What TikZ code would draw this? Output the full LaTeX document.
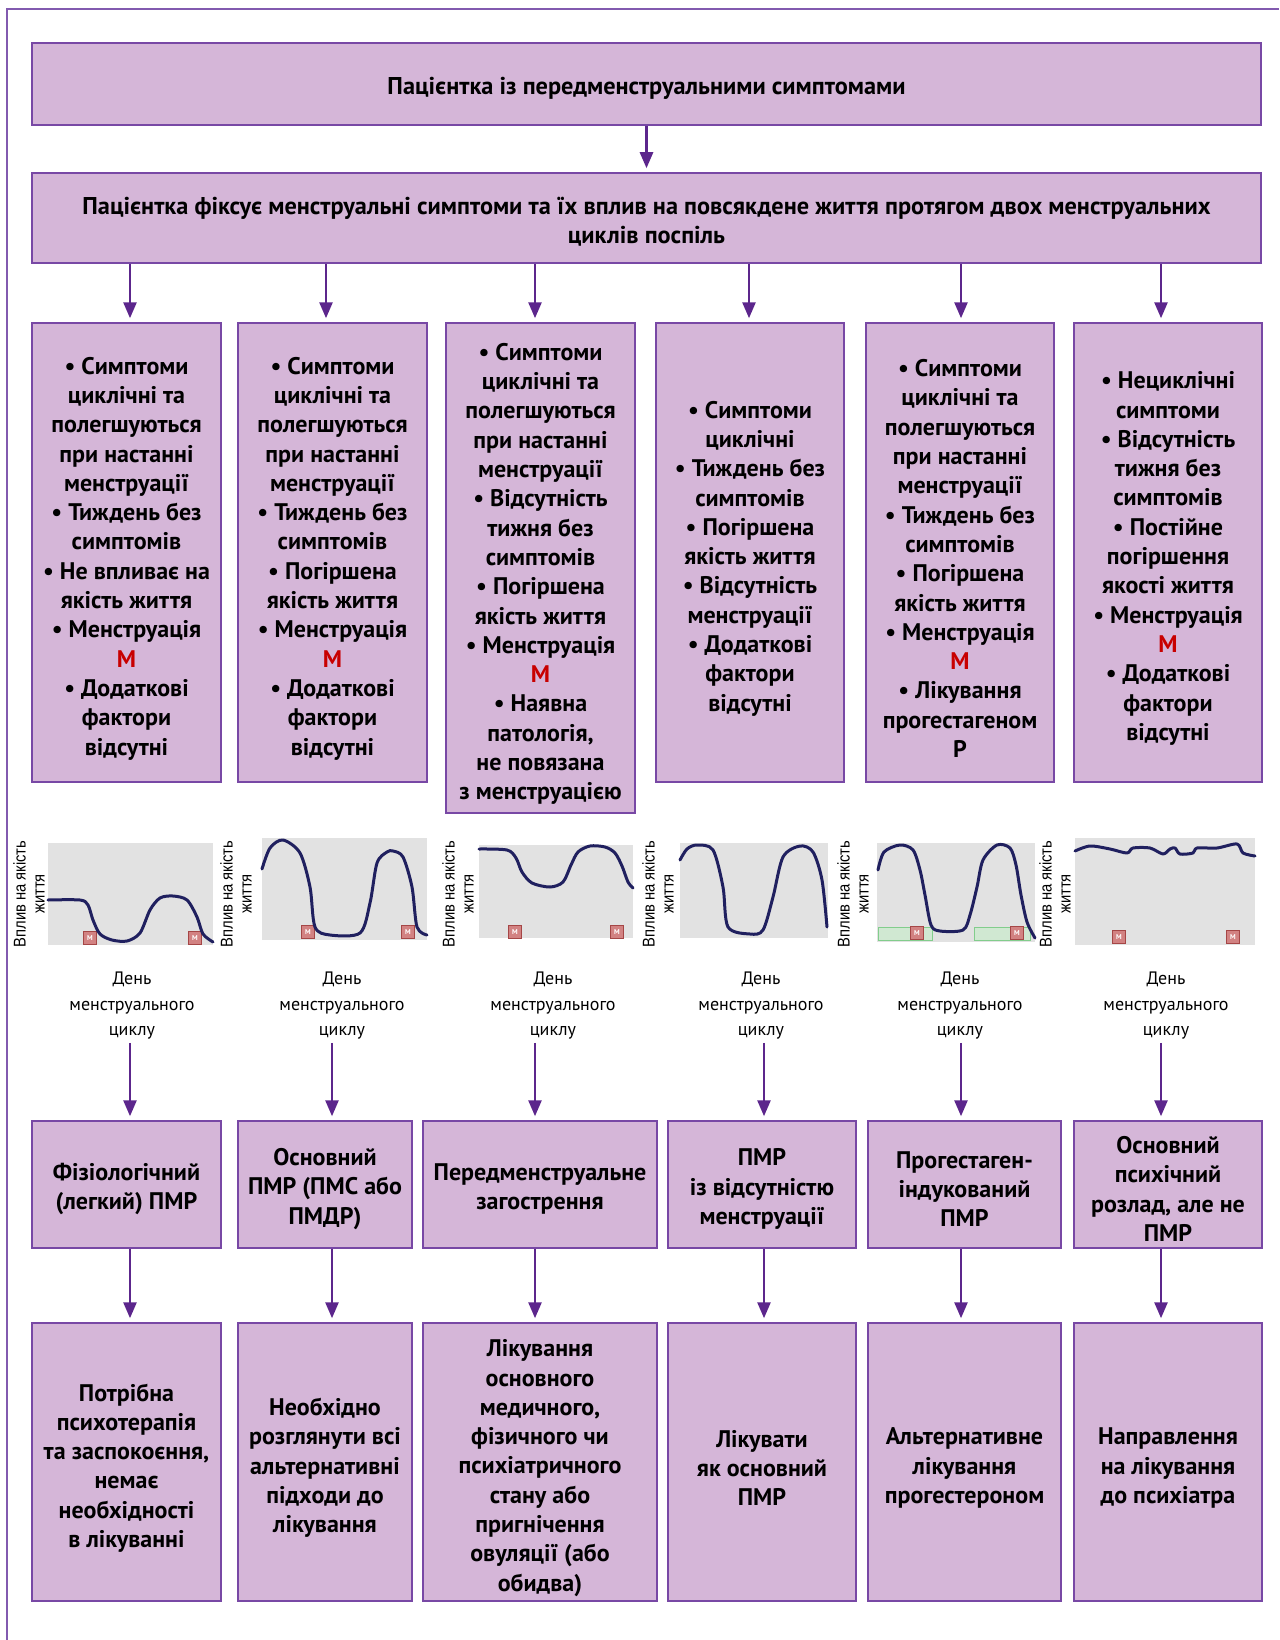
\documentclass[tikz,border=0pt]{standalone}
\usepackage{fontspec}
\setmainfont{PT Sans}
\newfontfamily\arialf[FakeStretch=0.87]{Liberation Sans}
\usetikzlibrary{arrows.meta}
\definecolor{boxfill}{RGB}{213,182,216}
\definecolor{boxline}{RGB}{120,72,165}
\definecolor{arrcol}{RGB}{92,38,140}
\definecolor{framecol}{RGB}{130,90,175}
\definecolor{mred}{RGB}{200,0,0}
\definecolor{chartbg}{RGB}{226,226,226}
\definecolor{curvecol}{RGB}{32,32,95}
\definecolor{mkfill}{RGB}{210,130,130}
\definecolor{mkline}{RGB}{165,70,70}
\definecolor{pgline}{RGB}{130,205,140}
\definecolor{pgfillc}{RGB}{208,232,210}
\newcommand{\Mr}{\textcolor{mred}{М}}
\begin{document}
\begin{tikzpicture}[x=1pt,y=-1pt,
  box/.style={draw=boxline, line width=1.5pt, fill=boxfill, inner sep=0pt},
  btext/.style={align=center, inner sep=0pt, font=\bfseries\fontsize{24}{29.3}\selectfont},
  htext/.style={align=center, inner sep=0pt, font=\bfseries\fontsize{24.3}{29.3}\selectfont},
  arr/.style={draw=arrcol, line width=2.6pt, -{Triangle[width=13pt,length=16pt]}, shorten >=4pt},
  vlab/.style={rotate=90, align=center, inner sep=0pt, font=\arialf\fontsize{17}{19}\selectfont},
  daylab/.style={align=center, inner sep=3pt, font=\fontsize{18}{25.5}\selectfont},
  curve/.style={draw=curvecol, line width=3pt, line cap=round, line join=round},
  marker/.style={draw=mkline, line width=1pt, fill=mkfill, minimum size=13pt, inner sep=0pt,
    text=white, font=\bfseries\fontsize{7}{7}\selectfont},
  pgbar/.style={draw=pgline, line width=1pt, fill=pgfillc, inner sep=0pt, minimum height=13pt}
]
\useasboundingbox (0,0) rectangle (1279,1640);
\fill[white] (0,0) rectangle (1279,1640);
% frame
\draw[framecol, line width=1.5pt] (7,1640) -- (7,9) -- (1279,9);

% header boxes
\node[box, minimum width=1229pt, minimum height=82pt] (top) at (646.5,84) {};
\node[htext] (topt) at ([yshift=-4pt]top.center) {Пацієнтка із передменструальними симптомами};
\node[box, minimum width=1229pt, minimum height=90pt] (box2) at (646.5,218) {};
\node[htext] (box2t) at ([yshift=-4pt]box2.center)
  {Пацієнтка фіксує менструальні симптоми та їх вплив на повсякдене життя протягом двох менструальних\\циклів поспіль};

% column boxes
\node[box, minimum width=189pt, minimum height=459pt] (c1) at (126.5,552.5) {};
\node[btext] (c1t) at ([yshift=-6pt]c1.center)
  {• Симптоми\\циклічні та\\полегшуються\\при настанні\\менструації\\• Тиждень без\\симптомів\\• Не впливає на\\якість життя\\• Менструація\\\Mr\\• Додаткові\\фактори\\відсутні};
\node[box, minimum width=189pt, minimum height=459pt] (c2) at (332.5,552.5) {};
\node[btext] (c2t) at ([yshift=-6pt]c2.center)
  {• Симптоми\\циклічні та\\полегшуються\\при настанні\\менструації\\• Тиждень без\\симптомів\\• Погіршена\\якість життя\\• Менструація\\\Mr\\• Додаткові\\фактори\\відсутні};
\node[box, minimum width=189pt, minimum height=490pt] (c3) at (540.5,568) {};
\node[btext] (c3t) at ([yshift=-6pt]c3.center)
  {• Симптоми\\циклічні та\\полегшуються\\при настанні\\менструації\\• Відсутність\\тижня без\\симптомів\\• Погіршена\\якість життя\\• Менструація\\\Mr\\• Наявна\\патологія,\\не повязана\\з менструацією};
\node[box, minimum width=188pt, minimum height=459pt] (c4) at (750,552.5) {};
\node[btext] (c4t) at ([yshift=-6pt]c4.center)
  {• Симптоми\\циклічні\\• Тиждень без\\симптомів\\• Погіршена\\якість життя\\• Відсутність\\менструації\\• Додаткові\\фактори\\відсутні};
\node[box, minimum width=188pt, minimum height=459pt] (c5) at (960,552.5) {};
\node[btext] (c5t) at ([yshift=-6pt]c5.center)
  {• Симптоми\\циклічні та\\полегшуються\\при настанні\\менструації\\• Тиждень без\\симптомів\\• Погіршена\\якість життя\\• Менструація\\\Mr\\• Лікування\\прогестагеном\\Р};
\node[box, minimum width=188pt, minimum height=459pt] (c6) at (1168,552.5) {};
\node[btext] (c6t) at ([yshift=-6pt]c6.center)
  {• Нециклічні\\симптоми\\• Відсутність\\тижня без\\симптомів\\• Постійне\\погіршення\\якості життя\\• Менструація\\\Mr\\• Додаткові\\фактори\\відсутні};

% arrow x positions
\coordinate (ua1) at (130,0);  \coordinate (ua2) at (326,0);  \coordinate (ua3) at (535,0);
\coordinate (ua4) at (749,0);  \coordinate (ua5) at (961,0);  \coordinate (ua6) at (1161,0);
\coordinate (la1) at (130,0);  \coordinate (la2) at (332,0);  \coordinate (la3) at (535,0);
\coordinate (la4) at (764,0);  \coordinate (la5) at (961,0);  \coordinate (la6) at (1161,0);

\draw[arr] (top.south) -- (box2.north);
\foreach \i in {1,...,6} {\draw[arr] (box2.south -| ua\i) -- (c\i.north -| ua\i);}

% charts
\fill[chartbg] (48,843) rectangle (213,945);
\fill[chartbg] (262,838) rectangle (427,940);
\fill[chartbg] (479,845) rectangle (633,938);
\fill[chartbg] (680,843) rectangle (828,938);
\fill[chartbg] (877,843) rectangle (1035,942);
\fill[chartbg] (1075,838) rectangle (1255,945);

% progestagen bars
\node[pgbar, minimum width=54pt] (pg1) at (905,933.5) {};
\node[pgbar, minimum width=56pt] (pg2) at (1002,933.5) {};

% markers
\node[marker] (m1a) at (90,938) {М};
\node[marker] (m1b) at (195,938) {М};
\node[marker] (m2a) at (308,932) {М};
\node[marker] (m2b) at (408,932) {М};
\node[marker] (m3a) at (515,932) {М};
\node[marker] (m3b) at (617,932) {М};
\node[marker] (m5a) at (917,933) {М};
\node[marker] (m5b) at (1017,933) {М};
\node[marker] (m6a) at (1119,937) {М};
\node[marker] (m6b) at (1233,937) {М};

% curves
\draw[curve] plot[smooth, tension=0.5] coordinates {(48,900) (80,900) (88,905) (93,920) (100,934) (112,940) (127,941) (140,933) (150,910) (160,898) (173,896) (187,900) (197,917) (203,934) (213,942)};
\draw[curve] plot[smooth, tension=0.5] coordinates {(262,869) (270,848) (283,840) (300,853) (310,887) (315,927) (330,935) (360,933) (370,903) (377,863) (387,852) (393,851) (403,857) (412,887) (417,927) (427,935)};
\draw[curve] plot[smooth, tension=0.5] coordinates {(479,849) (507,850) (516,858) (522,872) (532,883) (550,887) (563,882) (571,865) (578,852) (590,846) (605,847) (615,853) (622,866) (628,882) (633,888)};
\draw[curve] plot[smooth, tension=0.5] coordinates {(680,860) (687,849) (697,845) (713,850) (723,887) (728,927) (750,934) (763,930) (773,897) (783,857) (800,846) (813,852) (822,880) (827,927)};
\draw[curve] plot[smooth, tension=0.5] coordinates {(878,870) (884,852) (900,845) (913,850) (920,870) (925,895) (931,925) (940,931) (963,930) (970,915) (977,887) (983,860) (997,845) (1010,848) (1016,865) (1021,895) (1027,922) (1035,938)};
\draw[curve] plot[smooth, tension=0.5] coordinates {(1075,851) (1090,846) (1110,849) (1127,853) (1133,848) (1150,848) (1163,854) (1170,849) (1175,848) (1180,854) (1193,853) (1197,848) (1217,848) (1237,844) (1243,853) (1255,856)};

% vertical labels
\node[vlab] (v1) at (29,894) {Вплив на якість\\життя};
\node[vlab] (v2) at (236,894) {Вплив на якість\\життя};
\node[vlab] (v3) at (458,894) {Вплив на якість\\життя};
\node[vlab] (v4) at (658,894) {Вплив на якість\\життя};
\node[vlab] (v5) at (853,894) {Вплив на якість\\життя};
\node[vlab] (v6) at (1055,894) {Вплив на якість\\життя};

% day labels
\node[daylab] (d1) at (132,1006) {День\\менструального\\циклу};
\node[daylab] (d2) at (342,1006) {День\\менструального\\циклу};
\node[daylab] (d3) at (553,1006) {День\\менструального\\циклу};
\node[daylab] (d4) at (761,1006) {День\\менструального\\циклу};
\node[daylab] (d5) at (960,1006) {День\\менструального\\циклу};
\node[daylab] (d6) at (1166,1006) {День\\менструального\\циклу};

% diagnosis boxes
\node[box, minimum width=189pt, minimum height=127pt] (g1) at (126.5,1184.5) {};
\node[btext] (g1t) at ([yshift=-4.5pt]g1.center) {Фізіологічний\\(легкий) ПМР};
\node[box, minimum width=174pt, minimum height=127pt] (g2) at (325,1184.5) {};
\node[btext] (g2t) at ([yshift=-4.5pt]g2.center) {Основний\\ПМР (ПМС або\\ПМДР)};
\node[box, minimum width=234pt, minimum height=127pt] (g3) at (540,1184.5) {};
\node[btext] (g3t) at ([yshift=-4.5pt]g3.center) {Передменструальне\\загострення};
\node[box, minimum width=188pt, minimum height=127pt] (g4) at (762,1184.5) {};
\node[btext] (g4t) at ([yshift=-4.5pt]g4.center) {ПМР\\із відсутністю\\менструації};
\node[box, minimum width=193pt, minimum height=127pt] (g5) at (964.5,1184.5) {};
\node[btext] (g5t) at ([yshift=-4.5pt]g5.center) {Прогестаген-\\індукований\\ПМР};
\node[box, minimum width=188pt, minimum height=127pt] (g6) at (1168,1184.5) {};
\node[btext] (g6t) at ([yshift=-4.5pt]g6.center) {Основний\\психічний\\розлад, але не\\ПМР};

% bottom boxes
\node[box, minimum width=189pt, minimum height=278pt] (b1) at (126.5,1462) {};
\node[btext] (b1t) at ([yshift=-6pt]b1.center) {Потрібна\\психотерапія\\та заспокоєння,\\немає\\необхідності\\в лікуванні};
\node[box, minimum width=174pt, minimum height=278pt] (b2) at (325,1462) {};
\node[btext] (b2t) at ([yshift=-6pt]b2.center) {Необхідно\\розглянути всі\\альтернативні\\підходи до\\лікування};
\node[box, minimum width=234pt, minimum height=278pt] (b3) at (540,1462) {};
\node[btext] (b3t) at ([yshift=-6pt]b3.center) {Лікування\\основного\\медичного,\\фізичного чи\\психіатричного\\стану або\\пригнічення\\овуляції (або\\обидва)};
\node[box, minimum width=188pt, minimum height=278pt] (b4) at (762,1462) {};
\node[btext] (b4t) at ([yshift=-6pt]b4.center) {Лікувати\\як основний\\ПМР};
\node[box, minimum width=193pt, minimum height=278pt] (b5) at (964.5,1462) {};
\node[btext] (b5t) at ([yshift=-6pt]b5.center) {Альтернативне\\лікування\\прогестероном};
\node[box, minimum width=188pt, minimum height=278pt] (b6) at (1168,1462) {};
\node[btext] (b6t) at ([yshift=-6pt]b6.center) {Направлення\\на лікування\\до психіатра};

\foreach \i in {1,...,6} {
  \draw[arr] (d\i.south -| la\i) -- (g\i.north -| la\i);
  \draw[arr] (g\i.south -| la\i) -- (b\i.north -| la\i);
}
\end{tikzpicture}
\end{document}
